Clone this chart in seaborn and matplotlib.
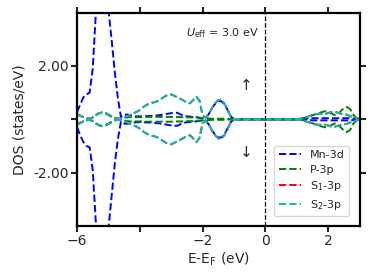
import matplotlib
matplotlib.use("Agg")
import matplotlib.pyplot as plt
import seaborn as sns
import pandas as pd

energy = [-6.0, -5.9, -5.8, -5.7, -5.6, -5.5, -5.4, -5.3, -5.2, -5.1,
          -5.0, -4.9, -4.8, -4.7, -4.6, -4.5, -4.4, -4.3, -4.2, -4.1,
          -4.0, -3.9, -3.8, -3.7, -3.6, -3.5, -3.4, -3.3, -3.2, -3.1,
          -3.0, -2.9, -2.8, -2.7, -2.6, -2.5, -2.4, -2.3, -2.2, -2.1,
          -2.0, -1.9, -1.8, -1.7, -1.6, -1.5, -1.4, -1.3, -1.2, -1.1,
          -1.0, -0.5, 0.0, 0.5, 1.0,
          1.1, 1.2, 1.3, 1.4, 1.5, 1.6, 1.7, 1.8, 1.9, 2.0,
          2.1, 2.2, 2.3, 2.4, 2.5, 2.6, 2.7, 2.8, 2.9, 3.0]

mn_up = [0.27, 0.55, 0.82, 0.93, 1.0, 1.9, 4.0, 5.5, 6.0, 5.3,
         4.1, 3.0, 1.8, 0.8, 0.08, 0.17, 0.18, 0.15, 0.12, 0.11,
         0.11, 0.11, 0.12, 0.12, 0.13, 0.14, 0.15, 0.17, 0.19, 0.21,
         0.23, 0.25, 0.24, 0.18, 0.13, 0.11, 0.10, 0.09, 0.08, 0.06,
         0.04, 0.05, 0.20, 0.42, 0.58, 0.68, 0.68, 0.55, 0.34, 0.10,
         0.01, 0.01, 0.01, 0.01, 0.01,
         0.02, 0.03, 0.03, 0.03, 0.04, 0.04, 0.04, 0.04, 0.04, 0.04,
         0.04, 0.04, 0.04, 0.04, 0.04, 0.04, 0.04, 0.03, 0.02, 0.01]
mn_dn = [-0.30, -0.60, -0.85, -1.0, -1.05, -1.9, -3.9, -5.5, -6.0, -5.3,
         -4.1, -2.9, -1.7, -0.75, -0.08, -0.16, -0.17, -0.15, -0.12, -0.11,
         -0.11, -0.11, -0.12, -0.12, -0.13, -0.14, -0.15, -0.17, -0.19, -0.21,
         -0.23, -0.25, -0.24, -0.18, -0.13, -0.11, -0.10, -0.09, -0.08, -0.06,
         -0.04, -0.05, -0.20, -0.42, -0.58, -0.68, -0.68, -0.55, -0.34, -0.10,
         -0.01, -0.01, -0.01, -0.01, -0.01,
         -0.02, -0.03, -0.03, -0.03, -0.04, -0.04, -0.04, -0.04, -0.04, -0.04,
         -0.04, -0.04, -0.04, -0.04, -0.04, -0.04, -0.04, -0.03, -0.02, -0.01]

p_up = [0.18, 0.13, 0.08, 0.04, 0.02, 0.07, 0.16, 0.23, 0.26, 0.24,
        0.18, 0.11, 0.05, 0.02, 0.02, 0.05, 0.07, 0.08, 0.08, 0.08,
        0.08, 0.08, 0.09, 0.09, 0.09, 0.09, 0.09, 0.09, 0.09, 0.09,
        0.09, 0.09, 0.08, 0.08, 0.08, 0.07, 0.07, 0.07, 0.06, 0.05,
        0.04, 0.03, 0.03, 0.02, 0.02, 0.02, 0.02, 0.02, 0.01, 0.01,
        0.01, 0.0, 0.0, 0.0, 0.0,
        0.01, 0.03, 0.07, 0.11, 0.15, 0.19, 0.23, 0.27, 0.30, 0.29,
        0.22, 0.16, 0.18, 0.30, 0.42, 0.46, 0.38, 0.18, 0.04, 0.01]
p_dn = [-0.18, -0.13, -0.08, -0.04, -0.02, -0.07, -0.16, -0.23, -0.26, -0.24,
        -0.18, -0.11, -0.05, -0.02, -0.02, -0.05, -0.07, -0.08, -0.08, -0.08,
        -0.08, -0.08, -0.09, -0.09, -0.09, -0.09, -0.09, -0.09, -0.09, -0.09,
        -0.09, -0.09, -0.08, -0.08, -0.08, -0.07, -0.07, -0.07, -0.06, -0.05,
        -0.04, -0.03, -0.03, -0.02, -0.02, -0.02, -0.02, -0.02, -0.01, -0.01,
        -0.01, 0.0, 0.0, 0.0, 0.0,
        -0.01, -0.03, -0.07, -0.11, -0.15, -0.19, -0.23, -0.27, -0.30, -0.29,
        -0.22, -0.16, -0.18, -0.30, -0.42, -0.48, -0.40, -0.18, -0.04, -0.01]

s1_up = [0.20, 0.14, 0.08, 0.04, 0.02, 0.06, 0.15, 0.22, 0.25, 0.22,
         0.16, 0.09, 0.04, 0.02, 0.03, 0.08, 0.12, 0.17, 0.22, 0.28,
         0.35, 0.45, 0.53, 0.58, 0.62, 0.65, 0.70, 0.78, 0.86, 0.92,
         0.93, 0.88, 0.82, 0.76, 0.70, 0.62, 0.60, 0.72, 0.84, 0.70,
         0.15, 0.05, 0.20, 0.42, 0.60, 0.72, 0.74, 0.58, 0.36, 0.10,
         0.01, 0.01, 0.01, 0.01, 0.01,
         0.02, 0.04, 0.08, 0.12, 0.16, 0.19, 0.21, 0.20, 0.20, 0.23,
         0.27, 0.28, 0.25, 0.21, 0.19, 0.17, 0.12, 0.08, 0.04, 0.02]
s1_dn = [-0.20, -0.14, -0.08, -0.04, -0.02, -0.06, -0.15, -0.22, -0.25, -0.22,
         -0.16, -0.09, -0.04, -0.02, -0.03, -0.08, -0.12, -0.17, -0.22, -0.28,
         -0.35, -0.45, -0.53, -0.58, -0.62, -0.65, -0.70, -0.78, -0.86, -0.92,
         -0.94, -0.88, -0.82, -0.76, -0.70, -0.62, -0.60, -0.72, -0.86, -0.70,
         -0.15, -0.05, -0.20, -0.42, -0.60, -0.72, -0.74, -0.58, -0.36, -0.10,
         -0.01, -0.01, -0.01, -0.01, -0.01,
         -0.02, -0.04, -0.08, -0.12, -0.16, -0.19, -0.21, -0.20, -0.20, -0.23,
         -0.27, -0.28, -0.25, -0.21, -0.19, -0.17, -0.12, -0.08, -0.04, -0.02]

s2_up = list(s1_up)
s2_dn = list(s1_dn)

labels = ["Mn-3d", "P-3p", r"S$_1$-3p", r"S$_2$-3p"]
colors = ["#0000ff", "#008000", "#ff0000", "#00bfbf"]
series_up = [mn_up, p_up, s1_up, s2_up]
series_dn = [mn_dn, p_dn, s1_dn, s2_dn]

sns.set_style("ticks")
plt.rcParams["font.family"] = ["DejaVu Sans"]

fig = plt.figure(figsize=(3.74, 2.80), dpi=100)
ax = fig.add_axes([0.206, 0.193, 0.757, 0.762])

for lab, col, up, dn in zip(labels, colors, series_up, series_dn):
    df_up = pd.DataFrame({"E": energy, "DOS": up})
    df_dn = pd.DataFrame({"E": energy, "DOS": dn})
    sns.lineplot(data=df_up, x="E", y="DOS", ax=ax, color=col, lw=1.4,
                 linestyle="--", sort=False, label=lab)
    sns.lineplot(data=df_dn, x="E", y="DOS", ax=ax, color=col, lw=1.4,
                 linestyle="--", sort=False, label="_nolegend_")

ax.axvline(0, color="black", ls="--", lw=0.9)

ax.set_xlim(-6, 3.02)
ax.set_ylim(-4, 4)
ax.set_xticks([-6, -4, -2, 0, 2])
ax.set_xticklabels(["\u22126", "", "\u22122", "0", "2"])
ax.set_yticks([-2, 0, 2])
ax.set_yticklabels(["-2.00", "", "2.00"])
ax.tick_params(direction="out", length=4, width=1.5, labelsize=10,
               top=True, right=True, pad=2)
for sp in ax.spines.values():
    sp.set_visible(True)
    sp.set_linewidth(1.6)
    sp.set_color("black")

ax.set_xlabel(r"E-E$_{\rm F}$ (eV)", fontsize=10, labelpad=2)
ax.set_ylabel("DOS (states/eV)", fontsize=10, labelpad=5)

ax.text(-0.2, 3.25, r"$U_{\rm eff}$ = 3.0 eV", ha="right", va="center", fontsize=8)
ax.text(-0.6, 1.25, "\u2191", ha="center", va="center", fontsize=11)
ax.text(-0.6, -1.25, "\u2193", ha="center", va="center", fontsize=11)

ax.legend(loc="lower right", fontsize=8, frameon=True, handlelength=2.0,
          borderpad=0.4, labelspacing=0.4, bbox_to_anchor=(0.98, 0.02))

fig.savefig("out.png", dpi=100)
